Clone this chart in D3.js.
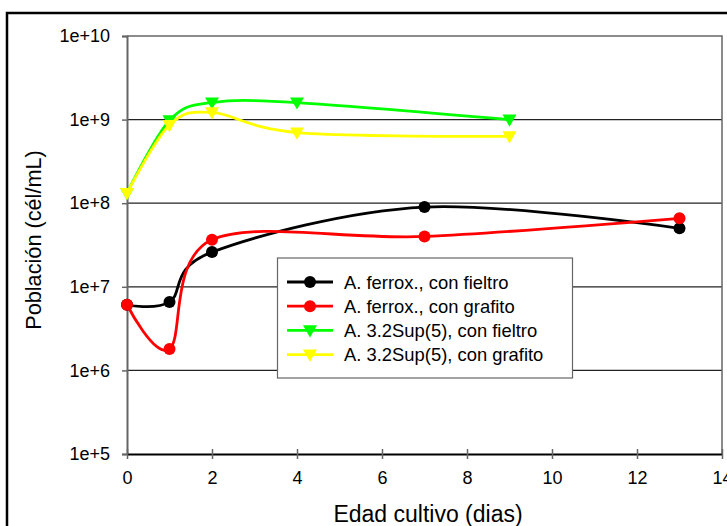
<!DOCTYPE html>
<html><head><meta charset="utf-8">
<script src="https://cdn.jsdelivr.net/npm/d3@7"></script>
<style>
body{margin:0;background:#fff;}
svg{display:block;font-family:"Liberation Sans",Arial,sans-serif;}
</style></head>
<body>
<svg id="c" width="727" height="526"></svg>
<script>
const days1 = [0, 1, 2, 7, 13];
const days2 = [0, 1, 2, 4, 9];
const ferroxFieltro = [6.1e6, 6.6e6, 2.6e7, 9.0e7, 5.0e7];
const ferroxGrafito = [6.1e6, 1.8e6, 3.65e7, 4.0e7, 6.6e7];
const supFieltro = [1.32e8, 9.8e8, 1.6e9, 1.6e9, 1.0e9];
const supGrafito = [1.32e8, 8.6e8, 1.22e9, 7.0e8, 6.3e8];
const seriesNames = ["A. ferrox., con fieltro", "A. ferrox., con grafito", "A. 3.2Sup(5), con fieltro", "A. 3.2Sup(5), con grafito"];
const seriesColors = ["#000000", "#ff0000", "#00ff00", "#ffff00"];
const seriesMarkers = ["circle", "circle", "triangle", "triangle"];
const xTicks = [0, 2, 4, 6, 8, 10, 12, 14];
const yTicks = [1e5, 1e6, 1e7, 1e8, 1e9, 1e10];
const yTickLabels = ["1e+5", "1e+6", "1e+7", "1e+8", "1e+9", "1e+10"];

const series = [
  {x: days1, y: ferroxFieltro},
  {x: days1, y: ferroxGrafito},
  {x: days2, y: supFieltro},
  {x: days2, y: supGrafito}
].map((s, i) => ({name: seriesNames[i], color: seriesColors[i], marker: seriesMarkers[i],
  pts: s.x.map((d, j) => [d, s.y[j]])}));

const svg = d3.select("#c");
const L = 127, R = 722, T = 36, B = 454;
const x = d3.scaleLinear().domain([0, 14]).range([L, R]);
const y = d3.scaleLog().domain([1e5, 1e10]).range([B, T]);

// outer frame
svg.append("rect").attr("x", 7).attr("y", 13).attr("width", 740).attr("height", 540)
  .attr("fill", "none").attr("stroke", "#000").attr("stroke-width", 2.5);

// gridlines
svg.append("g").selectAll("line").data(yTicks.slice(1, -1)).join("line")
  .attr("x1", L).attr("x2", R).attr("y1", d => y(d)).attr("y2", d => y(d))
  .attr("stroke", "#222").attr("stroke-width", 1.2);

// plot border (top/right)
svg.append("path").attr("d", `M${L},${T}H${R}V${B}`).attr("fill", "none")
  .attr("stroke", "#666").attr("stroke-width", 1.5);

// axes
const yAxis = d3.axisLeft(y).tickValues(yTicks).tickFormat((d, i) => yTickLabels[i]).tickSize(5).tickPadding(12);
const gy = svg.append("g").attr("transform", `translate(${L},0)`).call(yAxis);
const xAxis = d3.axisBottom(x).tickValues(xTicks).tickFormat(d3.format("d")).tickSizeInner(5).tickSizeOuter(0).tickPadding(12);
const gx = svg.append("g").attr("transform", `translate(0,${B})`).call(xAxis);
gx.selectAll(".tick line").attr("y1", -5).attr("y2", 5);
[gx, gy].forEach(g => {
  g.select(".domain").attr("stroke", "#666").attr("stroke-width", 2);
  g.selectAll(".tick line").attr("stroke", "#666").attr("stroke-width", 1.5);
  g.selectAll(".tick text").attr("fill", "#000").attr("font-size", 18)
    .attr("font-family", "'Liberation Sans',Arial,sans-serif");
});
gx.select(".domain").attr("stroke", "#000");
gx.selectAll(".tick text").attr("dy", "0.72em");

const line = d3.line().x(d => x(d[0])).y(d => y(d[1])).curve(d3.curveCatmullRom.alpha(0));
const tri = d3.symbol().type(d3.symbolTriangle).size(85);

function drawMarker(g, type, color, cx, cy) {
  if (type === "circle") {
    g.append("circle").attr("cx", cx).attr("cy", cy).attr("r", 6).attr("fill", color);
  } else {
    g.append("path").attr("d", tri()).attr("fill", color)
      .attr("transform", `translate(${cx},${cy - 1}) rotate(180)`);
  }
}

const plot = svg.append("g");
series.forEach(s => {
  plot.append("path").attr("d", line(s.pts)).attr("fill", "none")
    .attr("stroke", s.color).attr("stroke-width", 2.8);
  s.pts.forEach(p => drawMarker(plot, s.marker, s.color, x(p[0]), y(p[1])));
});

// legend
const lg = svg.append("g");
lg.append("rect").attr("x", 277.5).attr("y", 258).attr("width", 295).attr("height", 120)
  .attr("fill", "#fff").attr("stroke", "#666").attr("stroke-width", 1.2);
series.forEach((s, i) => {
  const cy = 282 + i * 24.2;
  lg.append("line").attr("x1", 287).attr("x2", 333).attr("y1", cy).attr("y2", cy)
    .attr("stroke", s.color).attr("stroke-width", 2.8);
  drawMarker(lg, s.marker, s.color, 310, cy);
  lg.append("text").attr("x", 344).attr("y", cy).attr("dy", "0.36em")
    .attr("font-size", 18.4).attr("fill", "#000").text(s.name);
});

// axis titles
svg.append("text").attr("x", 428).attr("y", 522).attr("text-anchor", "middle")
  .attr("font-size", 23).text("Edad cultivo (dias)");
svg.append("text").attr("transform", `translate(41,240) rotate(-90)`)
  .attr("text-anchor", "middle").attr("font-size", 21.7).text("Población (cél/mL)");
</script>
</body></html>
